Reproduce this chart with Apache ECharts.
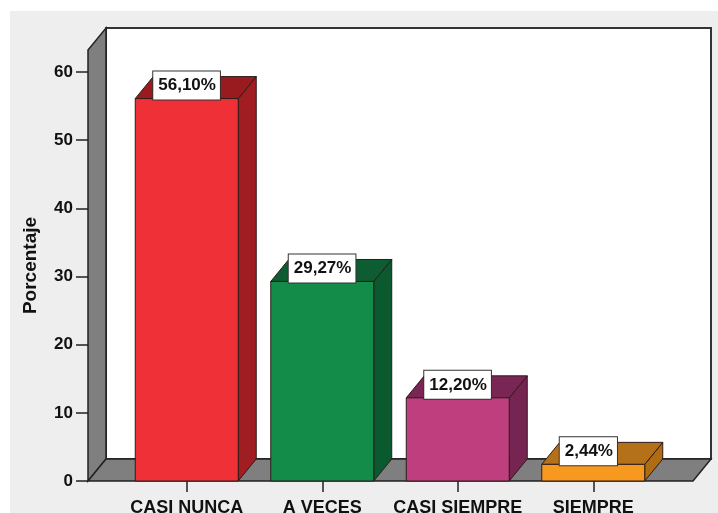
<!DOCTYPE html>
<html>
<head>
<meta charset="utf-8">
<script src="https://cdn.jsdelivr.net/npm/echarts@6/dist/echarts.min.js"></script>
<style>
  html, body { margin: 0; padding: 0; background: #ffffff; }
  #frame { position: absolute; left: 10px; top: 11px; right: 0; bottom: 0; background: #eeeeee; }
  #chart { position: absolute; left: 0; top: 0; width: 718px; height: 513px; }
</style>
</head>
<body>
<div id="frame"></div>
<div id="chart"></div>
<script>
// Response categories and their percentages
const categories = ['CASI NUNCA', 'A VECES', 'CASI SIEMPRE', 'SIEMPRE'];
const percentages = [56.10, 29.27, 12.20, 2.44];
const yTicks = [0, 10, 20, 30, 40, 50, 60];

// Face colours of each 3-D bar: front, side, top
const frontColors = ['#ef3137', '#138c4a', '#bf3f7e', '#f7991f'];
const sideColors  = ['#a01d22', '#0b5a2f', '#762452', '#b06c12'];
const topColors   = ['#9a1b1f', '#0d5c32', '#7a2654', '#b5701a'];

const DX = 18, DY = 22;          // depth offset of the 3-D effect
const PAD_L = 31, PAD_R = 32;    // floor overhang beyond the category band
const EDGE = '#2b1c1c';
const FONT = 'Liberation Sans, Arial, sans-serif';

function pctLabel(v) {
  return v.toFixed(2).replace('.', ',') + '%';
}

const chart = echarts.init(document.getElementById('chart'), null, { renderer: 'canvas' });

// Back wall, left wall and floor of the 3-D box
function renderBox(params, api) {
  const cs = params.coordSys;
  const left = cs.x - PAD_L;
  const right = cs.x + cs.width + PAD_R;
  const bottom = cs.y + cs.height;
  const top = cs.y - DY;
  return {
    type: 'group',
    children: [
      { type: 'rect',
        shape: { x: left + DX, y: top - DY, width: right - left, height: bottom - top },
        style: { fill: '#ffffff', stroke: '#333333', lineWidth: 2 } },
      { type: 'polygon',
        shape: { points: [[left, bottom], [left, top], [left + DX, top - DY], [left + DX, bottom - DY]] },
        style: { fill: '#7f7f7f', stroke: '#222222', lineWidth: 1.5 } },
      { type: 'polygon',
        shape: { points: [[left, bottom], [right, bottom], [right + DX, bottom - DY], [left + DX, bottom - DY]] },
        style: { fill: '#7f7f7f', stroke: '#222222', lineWidth: 1.5 } }
    ]
  };
}

// One 3-D bar with its value box on the top face
function renderBar(params, api) {
  const i = params.dataIndex;
  const v = api.value(1);
  const base = api.coord([api.value(0), 0]);
  const tip = api.coord([api.value(0), v]);
  const band = api.size([1, 0])[0];
  const w = band * 0.76;
  const x0 = base[0] - w / 2, x1 = base[0] + w / 2;
  const yb = base[1], yt = tip[1];
  return {
    type: 'group',
    children: [
      { type: 'polygon',
        shape: { points: [[x1, yb], [x1 + DX, yb - DY], [x1 + DX, yt - DY], [x1, yt]] },
        style: { fill: sideColors[i], stroke: EDGE, lineWidth: 1 } },
      { type: 'polygon',
        shape: { points: [[x0, yt], [x0 + DX, yt - DY], [x1 + DX, yt - DY], [x1, yt]] },
        style: { fill: topColors[i], stroke: EDGE, lineWidth: 1 } },
      { type: 'rect',
        shape: { x: x0, y: yt, width: w, height: yb - yt },
        style: { fill: frontColors[i], stroke: EDGE, lineWidth: 1 } },
      { type: 'text',
        x: x0 + DX, y: yt - DY - 5,
        z2: 10,
        style: {
          text: pctLabel(v),
          fontFamily: FONT,
          fontWeight: 'bold',
          fontSize: 17,
          lineHeight: 20,
          fill: '#111111',
          align: 'left',
          verticalAlign: 'top',
          backgroundColor: '#ffffff',
          borderColor: '#333333',
          borderWidth: 1,
          padding: [4, 4, 4, 5]
        } }
    ]
  };
}

const option = {
  animation: false,
  backgroundColor: 'transparent',
  grid: { left: 119, right: 57, top: 72, bottom: 32, containLabel: false, outerBoundsMode: 'none' },
  xAxis: {
    type: 'category',
    data: categories,
    axisLine: { show: false },
    axisTick: { show: true, alignWithLabel: true, length: 11, lineStyle: { color: '#222', width: 1.5 } },
    axisLabel: {
      interval: 0,
      margin: 18,
      color: '#111',
      fontFamily: FONT,
      fontWeight: 'bold',
      fontSize: 18
    },
    splitLine: { show: false }
  },
  yAxis: {
    type: 'value',
    min: yTicks[0],
    max: yTicks[yTicks.length - 1],
    interval: yTicks[1] - yTicks[0],
    offset: PAD_L,
    name: 'Porcentaje',
    nameLocation: 'middle',
    nameRotate: 90,
    nameGap: 48,
    nameTextStyle: {
      color: '#111',
      fontFamily: FONT,
      fontWeight: 'bold',
      fontSize: 19,
      padding: [0, 0, 0, 22]
    },
    axisLine: { show: false },
    axisTick: { show: true, length: 12, lineStyle: { color: '#222', width: 1.5 } },
    axisLabel: {
      margin: 15,
      color: '#111',
      fontFamily: FONT,
      fontWeight: 'bold',
      fontSize: 17
    },
    splitLine: { show: false }
  },
  series: [
    {
      type: 'custom',
      z: 1,
      clip: false,
      silent: true,
      renderItem: renderBox,
      data: [[0, 0]]
    },
    {
      type: 'custom',
      z: 2,
      clip: false,
      renderItem: renderBar,
      encode: { x: 0, y: 1 },
      data: percentages.map((p, k) => [k, p])
    }
  ]
};

chart.setOption(option);
</script>
</body>
</html>
